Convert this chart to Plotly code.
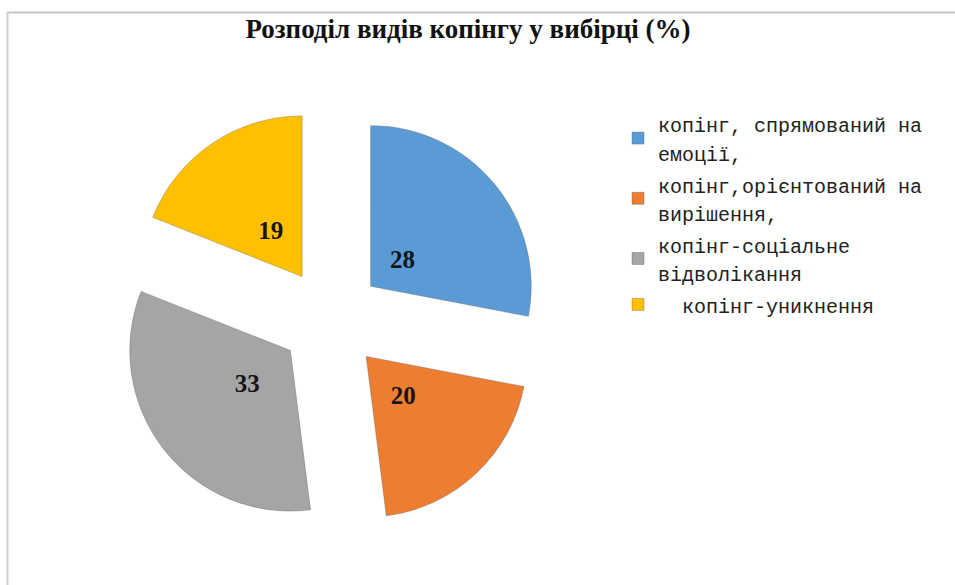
import plotly.graph_objects as go

title_text = "Розподіл видів копінгу у вибірці (%)"
label_lines = [
    ["копінг, спрямований на", "емоції,"],
    ["копінг,орієнтований на", "вирішення,"],
    ["копінг-соціальне", "відволікання"],
    ["  копінг-уникнення"],
]
values = [28, 20, 33, 19]
colors = ["#5B9BD5", "#ED7D31", "#A5A5A5", "#FFC000"]

W, H = 955, 585
cx, cy = 331, 319
pull = 0.32
half = 212          # main pie box half-size (px)
label_pull = [0.015, 0.03, 0.125, 0.03]
label_half = 180

labels = ["<br>".join('<span style="font-size:20px">' + ln + "</span>" for ln in lines)
          for lines in label_lines]


def dom(h):
    return dict(x=[(cx - h) / W, (cx + h) / W],
                y=[1 - (cy + h) / H, 1 - (cy - h) / H])


fig = go.Figure()
fig.add_trace(go.Pie(
    labels=labels, values=values, sort=False, direction="clockwise", rotation=0,
    pull=[pull] * len(values),
    marker=dict(colors=colors, line=dict(color="rgba(90,90,90,0.35)", width=1)),
    textinfo="none", domain=dom(half), hoverinfo="value",
))
fig.add_trace(go.Pie(
    labels=labels, values=values, sort=False, direction="clockwise", rotation=0,
    pull=label_pull, showlegend=False, hoverinfo="skip",
    marker=dict(colors=["rgba(0,0,0,0)"] * len(values), line=dict(width=0)),
    textinfo="value", textposition="inside", insidetextorientation="horizontal",
    textfont=dict(family="Liberation Serif", size=25, color="#151515", weight="bold"),
    domain=dom(label_half),
))

fig.update_layout(
    width=W, height=H,
    margin=dict(l=0, r=0, t=0, b=0),
    paper_bgcolor="white",
    font=dict(family="Liberation Serif", color="#222222"),
    title=dict(text="<b>" + title_text + "</b>", x=468 / W, xanchor="center",
               y=1 - 29 / H, yanchor="middle",
               font=dict(family="Liberation Serif", size=27, color="#111111")),
    legend=dict(x=618 / W, y=1 - 103 / H, xanchor="left", yanchor="top",
                font=dict(family="Liberation Mono", size=22, color="#222222"),
                valign="middle"),
    shapes=[
        dict(type="line", xref="paper", yref="paper", x0=7 / W, x1=1, y0=1 - 12.5 / H, y1=1 - 12.5 / H,
             line=dict(color="#c6c6c6", width=2)),
        dict(type="line", xref="paper", yref="paper", x0=7.5 / W, x1=7.5 / W, y0=0, y1=1 - 12 / H,
             line=dict(color="#cfcfcf", width=2)),
    ],
)

fig.write_html("out.html", config={"displayModeBar": False},
               post_script="document.body.style.margin='0';")
